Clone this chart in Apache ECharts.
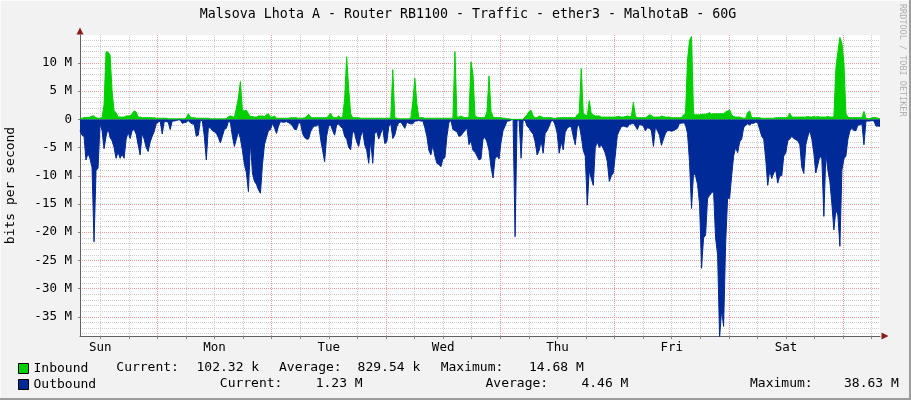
<!DOCTYPE html>
<html><head><meta charset="utf-8">
<script src="https://cdn.jsdelivr.net/npm/echarts@6/dist/echarts.min.js"></script>
<style>html,body{margin:0;padding:0;background:#f2f2f2}#c{width:911px;height:400px}</style>
</head><body><div id="c"></div><script>
const chartTitle = 'Malsova Lhota A - Router RB1100 - Traffic - ether3 - MalhotaB - 60G';
const dayLabels = ['Sun', 'Mon', 'Tue', 'Wed', 'Thu', 'Fri', 'Sat'];
const seriesNames = ['Inbound', 'Outbound'];
const inboundStats = ['102.32 k', '829.54 k', '14.68 M'];
const outboundStats = ['1.23 M', '4.46 M', '38.63 M'];
const statNames = ['Current:', 'Average:', 'Maximum:'];

// Inbound traffic, M bits/s, one sample per ~12.6 minutes (week)
const inbound = [
0.2,0.2,0.3,0.3,0.3,0.4,0.6,0.6,0.3,0.2,
0.2,0.3,2.6,12.0,11.9,11.4,5.0,1.5,1.2,0.4,
0.4,0.4,0.4,0.6,0.6,0.6,1.0,1.5,1.3,0.4,
0.4,0.3,0.3,0.3,0.3,0.3,0.3,0.3,0.2,0.2,
0.2,0.2,0.2,0.2,0.1,0.1,0.1,0.1,0.1,0.1,
0.1,0.1,0.1,0.2,1.0,0.4,0.3,0.3,0.2,0.2,
0.2,0.2,0.2,0.2,0.2,0.1,0.1,0.1,0.1,0.1,
0.1,0.1,0.1,0.1,0.5,0.6,0.5,0.3,2.0,3.8,
6.7,1.6,1.5,1.6,1.0,0.5,0.5,0.4,0.4,0.6,
0.6,0.6,0.5,0.8,1.0,0.4,0.4,0.6,0.2,0.2,
0.2,0.2,0.2,0.2,0.2,0.3,0.3,0.3,0.3,0.2,
0.2,0.2,0.3,0.5,0.9,0.4,0.3,0.3,0.3,0.3,
0.3,0.3,0.3,0.3,0.6,1.1,0.4,0.3,0.3,0.6,
0.3,0.4,3.7,11.1,5.5,1.0,0.3,0.3,0.3,0.3,
0.2,0.2,0.2,0.2,0.2,0.2,0.2,0.2,0.2,0.2,
0.2,0.2,0.2,0.2,0.2,0.3,8.8,0.3,0.2,0.1,
0.1,0.1,0.1,0.1,0.1,0.2,3.1,7.3,2.8,0.3,
0.3,0.3,0.2,0.2,0.2,0.2,0.2,0.2,0.2,0.2,
0.2,0.2,0.2,0.2,0.2,0.2,0.2,12.0,0.4,0.4,
0.6,0.4,0.3,0.3,0.4,10.2,8.0,0.6,0.4,0.3,
0.3,0.3,0.3,1.4,7.7,1.4,0.4,0.3,0.3,0.3,
0.3,0.2,0.2,0.1,0.1,0,0,0,0,0,
0,0,0.4,0.8,1.4,1.6,0.6,0.3,0.3,0.6,
0.5,0.3,0.3,0.3,0.3,0.3,0.2,0.1,0.3,0.3,
0.3,0.3,0.3,0.3,0.3,0.3,0.3,0.3,0.8,1.1,
9.0,1.0,0.8,0.6,3.3,1.0,0.8,0.6,0.6,0.6,
0.4,0.4,0.4,0.4,0.4,0.4,0.4,0.4,0.5,0.5,
0.4,0.4,0.5,0.6,0.5,0.5,3.0,0.6,0.3,0.3,
0.3,0.3,0.3,0.5,0.8,0.7,0.4,0.4,0.4,0.4,
0.6,0.5,0.4,0.4,0.4,0.3,0.3,0.3,0.3,0.3,
0.3,0.8,1.0,10.5,14.0,14.68,1.0,0.8,0.8,0.8,
0.9,0.9,0.9,1.0,1.2,0.9,1.0,1.0,1.0,1.0,
1.0,1.0,1.3,1.5,1.7,0.8,0.5,0.4,0.4,0.4,
0.3,0.2,0.2,1.2,1.5,0.3,0.3,0.3,0.3,0.3,
0.2,0.2,0.2,0.2,0.2,0.2,0.2,0.3,0.3,0.3,
0.3,0.3,0.3,0.4,1.1,0.4,0.4,0.4,0.4,0.4,
0.4,0.4,0.4,0.5,0.4,0.4,0.5,0.4,0.5,0.4,
0.4,0.4,0.4,0.5,0.4,0.4,0.4,9.0,12.0,14.5,
13.5,10.0,1.0,0.4,0.3,0.3,0.3,0.3,0.3,0.3,
0.3,1.4,0.2,0.1,0.1,0.3,0.3,0.3,0.2,0.1
];

// Outbound traffic, M bits/s (drawn below zero)
const outbound = [
-2.0,-2.8,-3.0,-7.2,-6.0,-7.0,-8.5,-21.7,-9.0,-8.7,
-0.8,-2.0,-5.2,-3.0,-1.6,-3.2,-3.8,-5.0,-6.9,-5.8,
-6.9,-6.2,-6.9,-3.5,-2.3,-3.4,-2.0,-1.8,-2.6,-4.5,
-6.3,-2.5,-3.5,-5.0,-5.7,-4.0,-3.0,-2.2,-0.8,-0.5,
-0.3,-2.6,-0.4,-0.4,-0.5,-1.8,-0.3,-0.3,-0.2,-0.1,
-0.1,-0.7,-0.6,-0.5,-0.2,-0.6,-0.8,-0.9,-3.0,-2.8,
-0.2,-0.2,-3.0,-7.2,-1.5,-1.5,-2.0,-2.2,-2.5,-3.2,
-4.2,-3.0,-1.8,-1.6,-0.4,-0.5,-3.0,-4.8,-3.5,-2.2,
-3.4,-5.5,-8.0,-9.5,-12.8,-4.0,-9.5,-11.0,-11.5,-12.5,
-13.1,-8.0,-4.5,-3.2,-2.0,-1.8,-0.7,-1.5,-2.5,-1.2,
-0.4,-0.5,-0.5,-0.4,-0.6,-0.8,-1.2,-1.8,-1.8,-0.6,
-0.7,-2.5,-3.2,-3.5,-3.5,-2.2,-1.5,-1.2,-1.2,-0.8,
-3.5,-5.5,-7.5,-3.0,-1.2,-1.0,-2.0,-2.8,-1.0,-0.8,
-1.3,-1.6,-3.0,-3.5,-5.0,-5.4,-2.0,-2.5,-4.0,-4.8,
-3.0,-2.0,-4.5,-5.5,-7.8,-3.7,-7.8,-2.5,-2.2,-3.5,
-2.5,-1.5,-4.3,-4.0,-1.3,-0.7,-3.4,-2.8,-1.3,-0.6,
-0.5,-1.0,-1.6,-0.5,-0.7,-0.8,-0.8,-0.3,-0.3,-0.2,
-0.3,-0.3,-1.5,-3.0,-5.5,-6.3,-4.6,-6.5,-7.8,-8.0,
-8.4,-7.0,-6.8,-3.0,-0.6,-0.2,-1.8,-2.0,-2.2,-3.0,
-2.9,-2.4,-2.0,-1.5,-4.5,-3.8,-5.5,-5.8,-6.5,-7.2,
-7.0,-3.5,-3.2,-4.0,-5.5,-8.5,-10.4,-7.0,-6.5,-7.0,
-4.0,-2.0,-1.2,-0.3,-0.3,-0.1,0,-20.8,-0.2,-0.1,
-6.9,-0.1,-0.2,-1.2,-1.6,-2.2,-2.6,-4.0,-6.3,-5.5,
-3.8,-6.0,-2.5,-2.0,-1.2,-0.3,-0.2,-1.0,-2.5,-6.0,
-4.0,-5.4,-2.3,-1.6,-1.3,-1.3,-3.0,-4.5,-1.3,-1.0,
-3.0,-5.5,-6.5,-15.2,-9.0,-10.5,-11.7,-5.0,-4.0,-5.0,
-4.5,-5.2,-6.0,-7.5,-11.0,-10.0,-9.5,-6.3,-2.8,-2.0,
-1.3,-1.2,-1.3,-1.4,-0.9,-0.8,-0.7,-1.2,-1.8,-0.9,
-1.0,-1.2,-2.0,-1.5,-1.6,-2.0,-4.8,-1.3,-2.0,-2.8,
-4.6,-3.5,-2.5,-2.0,-2.0,-2.1,-2.0,-1.8,-1.6,-0.7,
-0.7,-0.6,-1.0,-2.5,-7.5,-15.8,-9.5,-10.0,-11.5,-15.0,
-26.4,-21.0,-20.5,-14.0,-13.5,-13.0,-12.8,-21.0,-24.0,-38.63,
-33.8,-36.7,-22.0,-14.0,-14.0,-10.0,-6.5,-5.0,-5.9,-4.0,
-3.5,-1.5,-1.0,-0.8,-1.0,-0.7,-0.7,-0.5,-0.6,-1.8,
-3.0,-3.5,-7.0,-11.7,-9.0,-10.5,-9.5,-9.0,-11.3,-10.0,
-10.0,-6.5,-6.0,-3.8,-3.5,-3.0,-3.4,-3.6,-3.8,-4.5,
-8.5,-9.6,-4.5,-3.0,-2.0,-3.5,-6.0,-9.5,-8.0,-6.5,
-7.0,-17.2,-6.0,-9.0,-11.0,-15.0,-19.6,-16.0,-17.0,-22.5,
-9.0,-7.0,-6.5,-3.5,-2.0,-1.6,-2.0,-2.0,-1.0,-1.0,
-0.8,-4.5,-0.3,-0.3,-0.3,-0.2,-0.3,-1.2,-1.2,-1.23
];

const slots = inbound.map((_, i) => String(i));

const MONO = '"DejaVu Sans Mono", monospace';
const yMin = -38.4, yMax = 14.95;
// hours since Saturday 00:00 at the plot edges (one week)
const hStart = 19.74, hEnd = 187.74;

const chart = echarts.init(document.getElementById('c'), null, {renderer: 'canvas'});

const statTexts = [];
const row1X = [116.3, 196.5, 279, 357.6, 440.7, 529];
const row2X = [219.8, 315.7, 485.5, 581.4, 750, 844];
for (let k = 0; k < 3; k++) {
  statTexts.push({type: 'text', x: row1X[2 * k], y: 368, style: {text: statNames[k], font: '13px ' + MONO, fill: '#000', verticalAlign: 'middle'}});
  statTexts.push({type: 'text', x: row1X[2 * k + 1], y: 368, style: {text: inboundStats[k], font: '13px ' + MONO, fill: '#000', verticalAlign: 'middle'}});
  statTexts.push({type: 'text', x: row2X[2 * k], y: 384, style: {text: statNames[k], font: '13px ' + MONO, fill: '#000', verticalAlign: 'middle'}});
  statTexts.push({type: 'text', x: row2X[2 * k + 1], y: 384, style: {text: outboundStats[k], font: '13px ' + MONO, fill: '#000', verticalAlign: 'middle'}});
}

const option = {
  animation: false,
  backgroundColor: '#f2f2f2',
  grid: {left: 80, right: 31, top: 35, bottom: 64, show: true, backgroundColor: '#ffffff', borderWidth: 0, containLabel: false, outerBoundsMode: 'none'},
  legend: {
    data: [
      {name: seriesNames[0], itemStyle: {color: '#00cf00', borderColor: '#000', borderWidth: 1}},
      {name: seriesNames[1], itemStyle: {color: '#002a97', borderColor: '#000', borderWidth: 1}}
    ],
    orient: 'vertical', left: 18, top: 362, padding: 0, itemWidth: 10, itemHeight: 10, itemGap: 3,
    icon: 'rect', selectedMode: false,
    textStyle: {fontFamily: MONO, fontSize: 13, color: '#000', padding: [0, 0, 0, 0]}
  },
  xAxis: [
    {type: 'category', data: slots, boundaryGap: false, show: false, position: 'bottom', gridIndex: 0},
    {
      type: 'value', min: hStart, max: hEnd, minInterval: 6, maxInterval: 6, splitNumber: 28, position: 'bottom',
      axisLine: {show: true, onZero: false, lineStyle: {color: '#606060', width: 1}},
      axisTick: {show: true, length: 3, lineStyle: {color: '#808080'}},
      axisLabel: {
        show: true, margin: 5, fontFamily: MONO, fontSize: 12.5, color: '#000',
        showMinLabel: false, showMaxLabel: false,
        formatter: v => (Math.abs(v % 24) < 1e-6 ? dayLabels[Math.round(v / 24) - 1] : '')
      },
      splitLine: {show: true, showMinLine: false, showMaxLine: false, lineStyle: {color: '#cccccc', type: 'dotted', width: 1}}
    },
    {
      type: 'value', min: hStart + 12, max: hEnd + 12, minInterval: 24, maxInterval: 24, splitNumber: 7, position: 'bottom',
      axisLine: {show: true, onZero: false, symbol: ['none', 'triangle'], symbolSize: [7, 7], symbolOffset: [0, 5], lineStyle: {color: '#8b1a1a', width: 0}},
      axisTick: {show: false}, axisLabel: {show: false},
      splitLine: {show: true, showMinLine: false, showMaxLine: false, lineStyle: {color: '#f09a9a', type: 'dotted', width: 1}}
    }
  ],
  yAxis: [
    {
      type: 'value', min: yMin, max: yMax, minInterval: 5, maxInterval: 5, splitNumber: 10, position: 'left',
      name: 'bits per second', nameLocation: 'middle', nameGap: 63,
      nameTextStyle: {fontFamily: MONO, fontSize: 13, color: '#000'},
      axisLine: {show: true, onZero: false, lineStyle: {color: '#606060', width: 1}},
      axisTick: {show: true, length: 2, lineStyle: {color: '#808080'}},
      axisLabel: {
        show: true, margin: 8, fontFamily: MONO, fontSize: 12.5, color: '#000',
        showMinLabel: false, showMaxLabel: false,
        formatter: v => (v === 0 ? '0' : v + ' M')
      },
      splitLine: {show: true, showMinLine: false, showMaxLine: false, lineStyle: {color: '#f09a9a', type: 'dotted', width: 1}},
      minorTick: {show: false, splitNumber: 5},
      minorSplitLine: {show: true, lineStyle: {color: '#cccccc', type: 'dotted', width: 1}}
    },
    {
      type: 'value', min: yMin, max: yMax, position: 'left',
      axisLine: {show: true, onZero: false, symbol: ['none', 'triangle'], symbolSize: [7, 7], symbolOffset: [0, 4], lineStyle: {color: '#8b1a1a', width: 0}},
      axisTick: {show: false}, axisLabel: {show: false}, splitLine: {show: false}
    }
  ],
  series: [
    {
      name: seriesNames[1], type: 'line', xAxisIndex: 0, yAxisIndex: 0, data: outbound,
      showSymbol: false, symbol: 'none', sampling: null, clip: true, silent: true,
      lineStyle: {color: '#002a97', width: 1}, itemStyle: {color: '#002a97'},
      areaStyle: {color: '#002a97', opacity: 1}
    },
    {
      name: seriesNames[0], type: 'line', xAxisIndex: 0, yAxisIndex: 0, data: inbound,
      showSymbol: false, symbol: 'none', sampling: null, clip: true, silent: true,
      lineStyle: {color: '#00cf00', width: 1}, itemStyle: {color: '#00cf00'},
      areaStyle: {color: '#00cf00', opacity: 1}
    }
  ],
  graphic: [
    {type: 'text', x: 468, y: 15, style: {text: chartTitle, font: '13.3px ' + MONO, fill: '#000', align: 'center', verticalAlign: 'middle'}},
    {type: 'text', x: 902.5, y: 4, rotation: -Math.PI / 2, style: {text: 'RRDTOOL / TOBI OETIKER', font: '8.5px ' + MONO, fill: '#b0b0b0', align: 'left', verticalAlign: 'middle'}},
    {type: 'line', shape: {x1: 0, y1: 0.5, x2: 911, y2: 0.5}, style: {stroke: '#fcfcfc', lineWidth: 1}},
    {type: 'line', shape: {x1: 0.5, y1: 0, x2: 0.5, y2: 400}, style: {stroke: '#fcfcfc', lineWidth: 1}},
    {type: 'line', shape: {x1: 910, y1: 0, x2: 910, y2: 400}, style: {stroke: '#9c9c9c', lineWidth: 2}},
    {type: 'line', shape: {x1: 0, y1: 399, x2: 911, y2: 399}, style: {stroke: '#9c9c9c', lineWidth: 2}}
  ].concat(statTexts)
};
chart.setOption(option);
</script></body></html>
